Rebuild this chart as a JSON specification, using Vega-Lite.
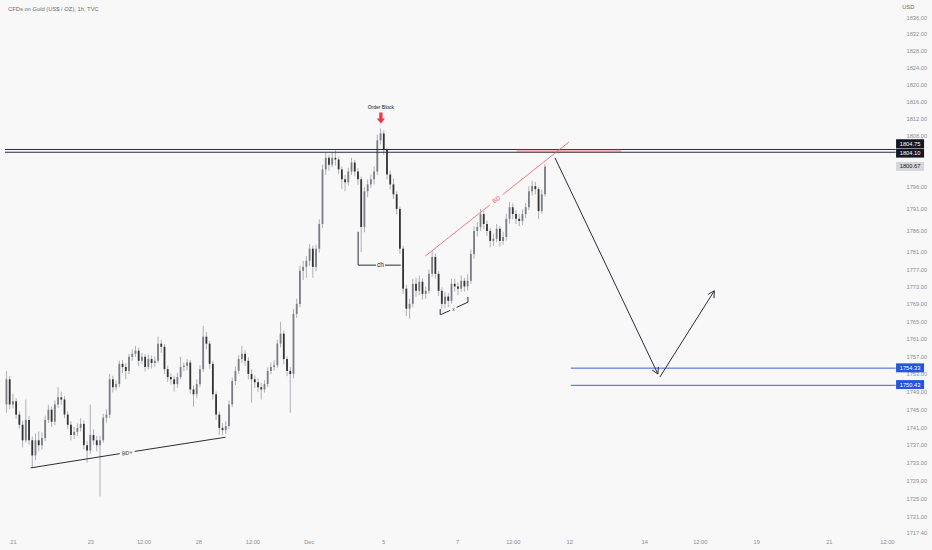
{
  "$schema": "https://vega.github.io/schema/vega-lite/v6.json",
  "width": 932,
  "height": 533,
  "padding": 0,
  "background": "#f8f8f8",
  "view": {"stroke": null},
  "config": {
    "axis": {"labelFont": "Liberation Sans", "labelColor": "#8a8d96", "labelFontSize": 5.7},
    "text": {"font": "Liberation Sans"}
  },
  "datasets": {
    "candles": [
{"t":-4,"o":1746.1,"h":1753.7,"l":1744.2,"c":1751.8},
{"t":-2,"o":1751.8,"h":1752.5,"l":1745.0,"c":1746.1},
{"t":0,"o":1746.1,"h":1748.5,"l":1745.2,"c":1746.8},
{"t":2,"o":1746.8,"h":1747.5,"l":1742.8,"c":1743.8},
{"t":4,"o":1743.8,"h":1744.6,"l":1740.6,"c":1741.5},
{"t":6,"o":1741.5,"h":1742.4,"l":1736.4,"c":1738.0},
{"t":8,"o":1738.0,"h":1747.2,"l":1737.5,"c":1742.6},
{"t":10,"o":1742.6,"h":1743.5,"l":1737.0,"c":1738.0},
{"t":12,"o":1738.0,"h":1738.8,"l":1731.8,"c":1734.6},
{"t":14,"o":1734.6,"h":1739.5,"l":1733.5,"c":1738.0},
{"t":16,"o":1738.0,"h":1740.0,"l":1735.5,"c":1736.9},
{"t":18,"o":1736.9,"h":1739.8,"l":1735.9,"c":1738.5},
{"t":20,"o":1738.5,"h":1743.6,"l":1737.8,"c":1742.6},
{"t":22,"o":1742.6,"h":1746.0,"l":1741.9,"c":1744.9},
{"t":24,"o":1744.9,"h":1745.6,"l":1741.0,"c":1742.2},
{"t":26,"o":1742.2,"h":1747.0,"l":1741.4,"c":1746.1},
{"t":28,"o":1746.1,"h":1750.0,"l":1745.3,"c":1747.7},
{"t":30,"o":1747.7,"h":1749.0,"l":1746.0,"c":1747.2},
{"t":32,"o":1747.2,"h":1748.0,"l":1743.0,"c":1743.8},
{"t":34,"o":1743.8,"h":1744.6,"l":1740.5,"c":1741.5},
{"t":36,"o":1741.5,"h":1742.3,"l":1738.0,"c":1739.2},
{"t":38,"o":1739.2,"h":1741.0,"l":1738.3,"c":1739.9},
{"t":40,"o":1739.9,"h":1741.8,"l":1739.0,"c":1740.8},
{"t":42,"o":1740.8,"h":1743.0,"l":1740.0,"c":1741.7},
{"t":44,"o":1741.7,"h":1742.5,"l":1735.9,"c":1736.9},
{"t":46,"o":1736.9,"h":1737.8,"l":1733.0,"c":1735.7},
{"t":48,"o":1735.7,"h":1746.1,"l":1735.0,"c":1739.2},
{"t":50,"o":1739.2,"h":1740.5,"l":1737.0,"c":1738.0},
{"t":52,"o":1738.0,"h":1739.0,"l":1735.5,"c":1736.9},
{"t":54,"o":1736.9,"h":1739.0,"l":1725.4,"c":1738.0},
{"t":56,"o":1738.0,"h":1744.0,"l":1737.5,"c":1743.1},
{"t":58,"o":1743.1,"h":1745.0,"l":1742.0,"c":1743.8},
{"t":60,"o":1743.8,"h":1753.0,"l":1743.0,"c":1751.8},
{"t":62,"o":1751.8,"h":1752.6,"l":1748.8,"c":1750.0},
{"t":64,"o":1750.0,"h":1751.5,"l":1749.3,"c":1750.7},
{"t":66,"o":1750.7,"h":1756.0,"l":1750.0,"c":1755.3},
{"t":68,"o":1755.3,"h":1756.2,"l":1753.2,"c":1754.6},
{"t":70,"o":1754.6,"h":1755.5,"l":1751.8,"c":1753.7},
{"t":72,"o":1753.7,"h":1757.6,"l":1753.0,"c":1756.9},
{"t":74,"o":1756.9,"h":1758.6,"l":1756.0,"c":1757.6},
{"t":76,"o":1757.6,"h":1759.4,"l":1756.9,"c":1758.3},
{"t":78,"o":1758.3,"h":1759.0,"l":1754.8,"c":1756.0},
{"t":80,"o":1756.0,"h":1757.8,"l":1755.2,"c":1756.9},
{"t":82,"o":1756.9,"h":1757.5,"l":1753.6,"c":1754.6},
{"t":84,"o":1754.6,"h":1757.4,"l":1754.0,"c":1756.4},
{"t":86,"o":1756.4,"h":1757.2,"l":1754.2,"c":1755.5},
{"t":88,"o":1755.5,"h":1757.0,"l":1754.7,"c":1756.0},
{"t":90,"o":1756.0,"h":1761.5,"l":1755.5,"c":1759.9},
{"t":92,"o":1759.9,"h":1760.8,"l":1757.8,"c":1759.2},
{"t":94,"o":1759.2,"h":1759.8,"l":1753.0,"c":1754.1},
{"t":96,"o":1754.1,"h":1754.9,"l":1751.2,"c":1752.3},
{"t":98,"o":1752.3,"h":1753.2,"l":1750.6,"c":1751.8},
{"t":100,"o":1751.8,"h":1752.6,"l":1749.0,"c":1750.7},
{"t":102,"o":1750.7,"h":1753.3,"l":1749.9,"c":1752.3},
{"t":104,"o":1752.3,"h":1756.9,"l":1751.8,"c":1754.6},
{"t":106,"o":1754.6,"h":1755.6,"l":1753.6,"c":1754.9},
{"t":108,"o":1754.9,"h":1756.4,"l":1753.8,"c":1755.6},
{"t":110,"o":1755.6,"h":1756.2,"l":1748.5,"c":1749.5},
{"t":112,"o":1749.5,"h":1750.4,"l":1745.6,"c":1748.4},
{"t":114,"o":1748.4,"h":1751.8,"l":1747.6,"c":1750.7},
{"t":116,"o":1750.7,"h":1755.0,"l":1750.0,"c":1754.1},
{"t":118,"o":1754.1,"h":1764.0,"l":1753.5,"c":1761.5},
{"t":120,"o":1761.5,"h":1762.6,"l":1758.6,"c":1759.9},
{"t":122,"o":1759.9,"h":1760.5,"l":1754.2,"c":1755.3},
{"t":124,"o":1755.3,"h":1756.0,"l":1747.2,"c":1748.4},
{"t":126,"o":1748.4,"h":1749.0,"l":1742.6,"c":1743.8},
{"t":128,"o":1743.8,"h":1744.5,"l":1739.2,"c":1740.8},
{"t":130,"o":1740.8,"h":1741.9,"l":1739.2,"c":1740.3},
{"t":132,"o":1740.3,"h":1742.3,"l":1739.5,"c":1741.2},
{"t":134,"o":1741.2,"h":1747.0,"l":1740.6,"c":1746.1},
{"t":136,"o":1746.1,"h":1752.2,"l":1745.5,"c":1751.4},
{"t":138,"o":1751.4,"h":1754.7,"l":1750.5,"c":1753.7},
{"t":140,"o":1753.7,"h":1757.3,"l":1753.0,"c":1756.4},
{"t":142,"o":1756.4,"h":1759.4,"l":1755.4,"c":1757.6},
{"t":144,"o":1757.6,"h":1758.4,"l":1754.8,"c":1756.0},
{"t":146,"o":1756.0,"h":1756.8,"l":1751.8,"c":1753.0},
{"t":148,"o":1753.0,"h":1754.0,"l":1746.5,"c":1751.8},
{"t":150,"o":1751.8,"h":1752.7,"l":1749.8,"c":1751.1},
{"t":152,"o":1751.1,"h":1752.0,"l":1748.9,"c":1750.0},
{"t":154,"o":1750.0,"h":1751.0,"l":1747.2,"c":1749.5},
{"t":156,"o":1749.5,"h":1751.6,"l":1748.8,"c":1750.7},
{"t":158,"o":1750.7,"h":1754.5,"l":1750.0,"c":1753.7},
{"t":160,"o":1753.7,"h":1755.6,"l":1752.9,"c":1754.6},
{"t":162,"o":1754.6,"h":1756.1,"l":1753.8,"c":1755.0},
{"t":164,"o":1755.0,"h":1760.8,"l":1754.4,"c":1759.9},
{"t":166,"o":1759.9,"h":1764.9,"l":1759.0,"c":1762.2},
{"t":168,"o":1762.2,"h":1762.9,"l":1755.2,"c":1756.4},
{"t":170,"o":1756.4,"h":1757.0,"l":1752.5,"c":1753.7},
{"t":172,"o":1753.7,"h":1754.6,"l":1744.2,"c":1753.0},
{"t":174,"o":1753.0,"h":1767.8,"l":1752.0,"c":1766.7},
{"t":176,"o":1766.7,"h":1770.2,"l":1765.8,"c":1769.0},
{"t":178,"o":1769.0,"h":1777.8,"l":1768.2,"c":1776.6},
{"t":180,"o":1776.6,"h":1778.9,"l":1774.5,"c":1777.5},
{"t":182,"o":1777.5,"h":1780.0,"l":1775.0,"c":1778.9},
{"t":184,"o":1778.9,"h":1782.8,"l":1777.8,"c":1781.7},
{"t":186,"o":1781.7,"h":1782.4,"l":1775.0,"c":1777.5},
{"t":188,"o":1777.5,"h":1782.6,"l":1776.5,"c":1781.7},
{"t":190,"o":1781.7,"h":1788.5,"l":1780.8,"c":1787.4},
{"t":192,"o":1787.4,"h":1801.2,"l":1786.5,"c":1800.1},
{"t":194,"o":1800.1,"h":1804.0,"l":1798.8,"c":1802.8},
{"t":196,"o":1802.8,"h":1803.5,"l":1799.8,"c":1801.2},
{"t":198,"o":1801.2,"h":1804.0,"l":1800.6,"c":1802.8},
{"t":200,"o":1802.8,"h":1804.6,"l":1801.0,"c":1802.4},
{"t":202,"o":1802.4,"h":1803.0,"l":1799.0,"c":1800.1},
{"t":204,"o":1800.1,"h":1800.8,"l":1795.5,"c":1797.8},
{"t":206,"o":1797.8,"h":1798.8,"l":1795.0,"c":1797.1},
{"t":208,"o":1797.1,"h":1800.5,"l":1796.3,"c":1799.6},
{"t":210,"o":1799.6,"h":1802.8,"l":1798.8,"c":1801.7},
{"t":212,"o":1801.7,"h":1802.3,"l":1798.5,"c":1799.6},
{"t":214,"o":1799.6,"h":1800.4,"l":1796.5,"c":1797.8},
{"t":216,"o":1797.8,"h":1798.4,"l":1780.9,"c":1786.7},
{"t":218,"o":1786.7,"h":1796.0,"l":1785.5,"c":1795.0},
{"t":220,"o":1795.0,"h":1797.8,"l":1793.6,"c":1796.6},
{"t":222,"o":1796.6,"h":1798.9,"l":1795.8,"c":1797.8},
{"t":224,"o":1797.8,"h":1800.8,"l":1796.6,"c":1799.6},
{"t":226,"o":1799.6,"h":1808.2,"l":1798.8,"c":1806.9},
{"t":228,"o":1806.9,"h":1809.7,"l":1805.9,"c":1808.5},
{"t":230,"o":1808.5,"h":1809.2,"l":1803.5,"c":1804.6},
{"t":232,"o":1804.6,"h":1805.2,"l":1797.8,"c":1798.9},
{"t":234,"o":1798.9,"h":1799.8,"l":1795.4,"c":1796.6},
{"t":236,"o":1796.6,"h":1798.0,"l":1793.2,"c":1794.3},
{"t":238,"o":1794.3,"h":1795.0,"l":1789.6,"c":1790.9},
{"t":240,"o":1790.9,"h":1791.5,"l":1780.5,"c":1781.7},
{"t":242,"o":1781.7,"h":1782.4,"l":1771.3,"c":1772.5},
{"t":244,"o":1772.5,"h":1773.4,"l":1766.2,"c":1767.9},
{"t":246,"o":1767.9,"h":1770.2,"l":1765.6,"c":1769.0},
{"t":248,"o":1769.0,"h":1774.8,"l":1768.2,"c":1773.6},
{"t":250,"o":1773.6,"h":1775.0,"l":1770.6,"c":1772.0},
{"t":252,"o":1772.0,"h":1775.5,"l":1771.0,"c":1774.1},
{"t":254,"o":1774.1,"h":1774.9,"l":1770.0,"c":1771.3},
{"t":256,"o":1771.3,"h":1773.0,"l":1770.2,"c":1772.0},
{"t":258,"o":1772.0,"h":1776.9,"l":1771.3,"c":1775.9},
{"t":260,"o":1775.9,"h":1781.2,"l":1775.2,"c":1779.8},
{"t":262,"o":1779.8,"h":1780.5,"l":1774.8,"c":1775.9},
{"t":264,"o":1775.9,"h":1776.5,"l":1770.8,"c":1772.0},
{"t":266,"o":1772.0,"h":1772.8,"l":1767.8,"c":1769.0},
{"t":268,"o":1769.0,"h":1771.8,"l":1768.0,"c":1770.7},
{"t":270,"o":1770.7,"h":1771.5,"l":1768.3,"c":1769.7},
{"t":272,"o":1769.7,"h":1774.8,"l":1769.0,"c":1773.6},
{"t":274,"o":1773.6,"h":1774.8,"l":1771.8,"c":1773.0},
{"t":276,"o":1773.0,"h":1774.0,"l":1771.0,"c":1772.5},
{"t":278,"o":1772.5,"h":1775.5,"l":1771.8,"c":1774.3},
{"t":280,"o":1774.3,"h":1775.0,"l":1771.8,"c":1773.0},
{"t":282,"o":1773.0,"h":1775.8,"l":1772.0,"c":1774.3},
{"t":284,"o":1774.3,"h":1781.5,"l":1773.6,"c":1780.5},
{"t":286,"o":1780.5,"h":1786.9,"l":1779.4,"c":1785.8},
{"t":288,"o":1785.8,"h":1787.9,"l":1784.5,"c":1786.7},
{"t":290,"o":1786.7,"h":1790.9,"l":1785.8,"c":1789.7},
{"t":292,"o":1789.7,"h":1790.4,"l":1786.2,"c":1787.4},
{"t":294,"o":1787.4,"h":1788.2,"l":1784.6,"c":1785.8},
{"t":296,"o":1785.8,"h":1786.5,"l":1782.0,"c":1783.5},
{"t":298,"o":1783.5,"h":1785.2,"l":1782.3,"c":1784.0},
{"t":300,"o":1784.0,"h":1787.4,"l":1783.2,"c":1786.3},
{"t":302,"o":1786.3,"h":1787.0,"l":1782.2,"c":1783.5},
{"t":304,"o":1783.5,"h":1785.6,"l":1782.6,"c":1784.4},
{"t":306,"o":1784.4,"h":1789.8,"l":1783.6,"c":1788.6},
{"t":308,"o":1788.6,"h":1792.5,"l":1787.5,"c":1791.3},
{"t":310,"o":1791.3,"h":1792.2,"l":1788.5,"c":1789.7},
{"t":312,"o":1789.7,"h":1790.6,"l":1787.4,"c":1788.6},
{"t":314,"o":1788.6,"h":1789.7,"l":1786.9,"c":1788.1},
{"t":316,"o":1788.1,"h":1790.8,"l":1787.2,"c":1789.7},
{"t":318,"o":1789.7,"h":1792.3,"l":1788.8,"c":1791.3},
{"t":320,"o":1791.3,"h":1796.2,"l":1790.6,"c":1795.0},
{"t":322,"o":1795.0,"h":1797.5,"l":1794.0,"c":1796.2},
{"t":324,"o":1796.2,"h":1797.2,"l":1794.3,"c":1795.5},
{"t":326,"o":1795.5,"h":1796.0,"l":1788.6,"c":1790.4},
{"t":328,"o":1790.4,"h":1795.4,"l":1789.8,"c":1794.3},
{"t":330,"o":1794.3,"h":1801.3,"l":1793.8,"c":1800.7}
    ],
    "hlines": [
      {"p": 1804.75, "t1": -4.9, "t2": 547.5, "kind": "black"},
      {"p": 1804.10, "t1": -4.9, "t2": 547.5, "kind": "black"},
      {"p": 1754.33, "t1": 346, "t2": 547.5, "kind": "blue"},
      {"p": 1750.43, "t1": 346, "t2": 547.5, "kind": "blue"}
    ],
    "paths": [
      {"g": "bdp1", "k": 0, "t": 11.0, "p": 1731.8},
      {"g": "bdp1", "k": 1, "t": 66.3, "p": 1735.0},
      {"g": "bdp2", "k": 0, "t": 75.5, "p": 1735.5},
      {"g": "bdp2", "k": 1, "t": 131.9, "p": 1738.7},
      {"g": "ch1", "k": 0, "t": 214.1, "p": 1785.6},
      {"g": "ch1", "k": 1, "t": 214.1, "p": 1777.9},
      {"g": "ch1", "k": 2, "t": 225.2, "p": 1777.9},
      {"g": "ch2", "k": 0, "t": 230.7, "p": 1777.9},
      {"g": "ch2", "k": 1, "t": 240.5, "p": 1777.9},
      {"g": "x1", "k": 0, "t": 265.0, "p": 1767.8},
      {"g": "x1", "k": 1, "t": 265.0, "p": 1766.5},
      {"g": "x1", "k": 2, "t": 271.2, "p": 1767.5},
      {"g": "x2", "k": 0, "t": 275.2, "p": 1768.2},
      {"g": "x2", "k": 1, "t": 282.2, "p": 1769.4},
      {"g": "x2", "k": 2, "t": 282.2, "p": 1770.6},
      {"g": "a1", "k": 0, "t": 336.2, "p": 1802.8},
      {"g": "a1", "k": 1, "t": 400.0, "p": 1753.0},
      {"g": "a1h", "k": 0, "t": 400.3, "p": 1754.6},
      {"g": "a1h", "k": 1, "t": 400.0, "p": 1753.0},
      {"g": "a1h", "k": 2, "t": 396.4, "p": 1753.9},
      {"g": "a2", "k": 0, "t": 401.2, "p": 1752.3},
      {"g": "a2", "k": 1, "t": 435.0, "p": 1772.0},
      {"g": "a2h", "k": 0, "t": 431.2, "p": 1771.2},
      {"g": "a2h", "k": 1, "t": 435.0, "p": 1772.0},
      {"g": "a2h", "k": 2, "t": 434.8, "p": 1770.3}
    ],
    "pinkpaths": [
      {"g": "bd1", "k": 0, "t": 255.8, "p": 1780.0},
      {"g": "bd1", "k": 1, "t": 295.7, "p": 1791.8},
      {"g": "bd2", "k": 0, "t": 303.7, "p": 1794.2},
      {"g": "bd2", "k": 1, "t": 344.8, "p": 1806.5}
    ],
    "badges": [
      {"v": "1804.75", "p": 1806.1, "kind": "black"},
      {"v": "1804.10", "p": 1803.9, "kind": "black"},
      {"v": "1800.67", "p": 1800.8, "kind": "last"},
      {"v": "1754.33", "p": 1754.4, "kind": "blue"},
      {"v": "1750.43", "p": 1750.6, "kind": "blue"}
    ]
  },
  "layer": [
    {
      "data": {"name": "candles"},
      "mark": {"type": "rule", "color": "#aeb0b6", "strokeWidth": 1},
      "encoding": {
        "x": {"field": "t", "type": "quantitative", "title": null,
          "scale": {"domain": [-4.908, 566.9], "nice": false, "zero": false},
          "axis": {"values": [0, 48, 81, 115, 148.5, 183.5, 229.5, 275.5, 310, 345, 391.5, 426, 461, 506, 542],
            "labelExpr": "datum.value==0?'21':datum.value==48?'23':datum.value==115?'28':datum.value==183.5?'Dec':datum.value==229.5?'5':datum.value==275.5?'7':datum.value==345?'12':datum.value==391.5?'14':datum.value==461?'19':datum.value==506?'21':'12:00'",
            "domain": false, "ticks": false, "grid": false, "labelPadding": 5, "labelFlush": false, "labelOverlap": false,
            "minExtent": 17, "maxExtent": 17}},
        "y": {"field": "l", "type": "quantitative", "title": null,
          "scale": {"type": "log", "domain": [1717.25, 1840.05], "nice": false},
          "axis": {"orient": "right", "offset": -32, "values": [1836, 1832, 1828, 1824, 1820, 1816, 1812, 1808, 1796, 1791, 1786, 1781, 1777, 1773, 1769, 1765, 1761, 1757, 1753, 1749, 1745, 1741, 1737, 1733, 1729, 1725, 1721, 1717.4],
            "format": ".2f", "domain": false, "ticks": false, "grid": false, "labelPadding": 6, "labelAlign": "left", "labelBaseline": "middle", "labelOverlap": false, "labelFlush": false}},
        "y2": {"field": "h", "title": null}
      }
    },
    {
      "data": {"name": "candles"},
      "mark": {"type": "bar", "width": 1.8},
      "encoding": {
        "x": {"field": "t", "type": "quantitative", "title": null},
        "y": {"field": "o", "type": "quantitative", "title": null},
        "y2": {"field": "c", "title": null},
        "color": {"condition": {"test": "datum.c >= datum.o", "value": "#7a7d85"}, "value": "#333333"}
      }
    },
    {
      "data": {"name": "hlines"},
      "mark": {"type": "rule", "strokeWidth": 1},
      "encoding": {
        "x": {"field": "t1", "type": "quantitative", "title": null},
        "x2": {"field": "t2", "title": null},
        "y": {"field": "p", "type": "quantitative", "title": null},
        "color": {"condition": {"test": "datum.kind=='blue'", "value": "#3a62d8"}, "value": "#2a2e39"}
      }
    },
    {
      "data": {"values": [{"p": 1804.43, "t1": 312.3, "t2": 377.3}]},
      "mark": {"type": "rule", "strokeWidth": 3, "color": "#f23645", "opacity": 0.35},
      "encoding": {
        "x": {"field": "t1", "type": "quantitative", "title": null},
        "x2": {"field": "t2", "title": null},
        "y": {"field": "p", "type": "quantitative", "title": null}
      }
    },
    {
      "data": {"name": "paths"},
      "mark": {"type": "line", "color": "#2a2e39", "strokeWidth": 1},
      "encoding": {
        "x": {"field": "t", "type": "quantitative", "title": null},
        "y": {"field": "p", "type": "quantitative", "title": null},
        "detail": {"field": "g"},
        "order": {"field": "k"}
      }
    },
    {
      "data": {"name": "pinkpaths"},
      "mark": {"type": "line", "color": "#f25a67", "strokeWidth": 1, "opacity": 0.8},
      "encoding": {
        "x": {"field": "t", "type": "quantitative", "title": null},
        "y": {"field": "p", "type": "quantitative", "title": null},
        "detail": {"field": "g"},
        "order": {"field": "k"}
      }
    },
    {
      "data": {"values": [
        {"txt": "CFDs on Gold (US$ / OZ), 1h, TVC", "t": -3.07, "p": 1838.0},
        {"txt": "USD", "t": 551.5, "p": 1838.4}
      ]},
      "mark": {"type": "text", "align": "left", "baseline": "middle", "fontSize": 5.8, "color": "#6a6d78"},
      "encoding": {
        "x": {"field": "t", "type": "quantitative", "title": null},
        "y": {"field": "p", "type": "quantitative", "title": null},
        "text": {"field": "txt"}
      }
    },
    {
      "data": {"values": [{"txt": "Order Block", "t": 228.2, "p": 1814.6}]},
      "mark": {"type": "text", "align": "center", "baseline": "middle", "fontSize": 5, "color": "#131722"},
      "encoding": {
        "x": {"field": "t", "type": "quantitative", "title": null},
        "y": {"field": "p", "type": "quantitative", "title": null},
        "text": {"field": "txt"}
      }
    },
    {
      "data": {"values": [{"txt": "ch", "t": 227.9, "p": 1777.9}]},
      "mark": {"type": "text", "align": "center", "baseline": "middle", "fontSize": 6.5, "color": "#131722"},
      "encoding": {
        "x": {"field": "t", "type": "quantitative", "title": null},
        "y": {"field": "p", "type": "quantitative", "title": null},
        "text": {"field": "txt"}
      }
    },
    {
      "data": {"values": [{"txt": "BD+", "t": 70.9, "p": 1735.2}]},
      "mark": {"type": "text", "align": "center", "baseline": "middle", "fontSize": 5.5, "angle": -9, "color": "#2a2e39"},
      "encoding": {
        "x": {"field": "t", "type": "quantitative", "title": null},
        "y": {"field": "p", "type": "quantitative", "title": null},
        "text": {"field": "txt"}
      }
    },
    {
      "data": {"values": [{"txt": "BD", "t": 299.8, "p": 1793.1}]},
      "mark": {"type": "text", "align": "center", "baseline": "middle", "fontSize": 6, "angle": -38, "color": "#f25a67"},
      "encoding": {
        "x": {"field": "t", "type": "quantitative", "title": null},
        "y": {"field": "p", "type": "quantitative", "title": null},
        "text": {"field": "txt"}
      }
    },
    {
      "data": {"values": [{"txt": "x", "t": 273.2, "p": 1767.9}]},
      "mark": {"type": "text", "align": "center", "baseline": "middle", "fontSize": 5, "color": "#2a2e39"},
      "encoding": {
        "x": {"field": "t", "type": "quantitative", "title": null},
        "y": {"field": "p", "type": "quantitative", "title": null},
        "text": {"field": "txt"}
      }
    },
    {
      "data": {"values": [{"t": 228.2, "p": 1812.1}]},
      "mark": {"type": "point", "filled": true, "opacity": 1, "color": "#f23645", "size": 121,
        "shape": "M-0.3,-1L0.3,-1L0.3,0.05L0.75,0.05L0,1L-0.75,0.05L-0.3,0.05Z"},
      "encoding": {
        "x": {"field": "t", "type": "quantitative", "title": null},
        "y": {"field": "p", "type": "quantitative", "title": null}
      }
    },
    {
      "data": {"name": "badges"},
      "mark": {"type": "point", "filled": true, "opacity": 1, "size": 784, "shape": "M-1,-0.32H1V0.32H-1Z"},
      "encoding": {
        "x": {"datum": 556.4, "type": "quantitative", "title": null},
        "y": {"field": "p", "type": "quantitative", "title": null},
        "color": {"condition": [
          {"test": "datum.kind=='blue'", "value": "#2454e0"},
          {"test": "datum.kind=='last'", "value": "#d5d6da"}
        ], "value": "#131722"}
      }
    },
    {
      "data": {"name": "badges"},
      "mark": {"type": "text", "align": "center", "baseline": "middle", "fontSize": 5.7},
      "encoding": {
        "x": {"datum": 556.4, "type": "quantitative", "title": null},
        "y": {"field": "p", "type": "quantitative", "title": null},
        "text": {"field": "v"},
        "color": {"condition": {"test": "datum.kind=='last'", "value": "#131722"}, "value": "#ffffff"}
      }
    }
  ]
}
